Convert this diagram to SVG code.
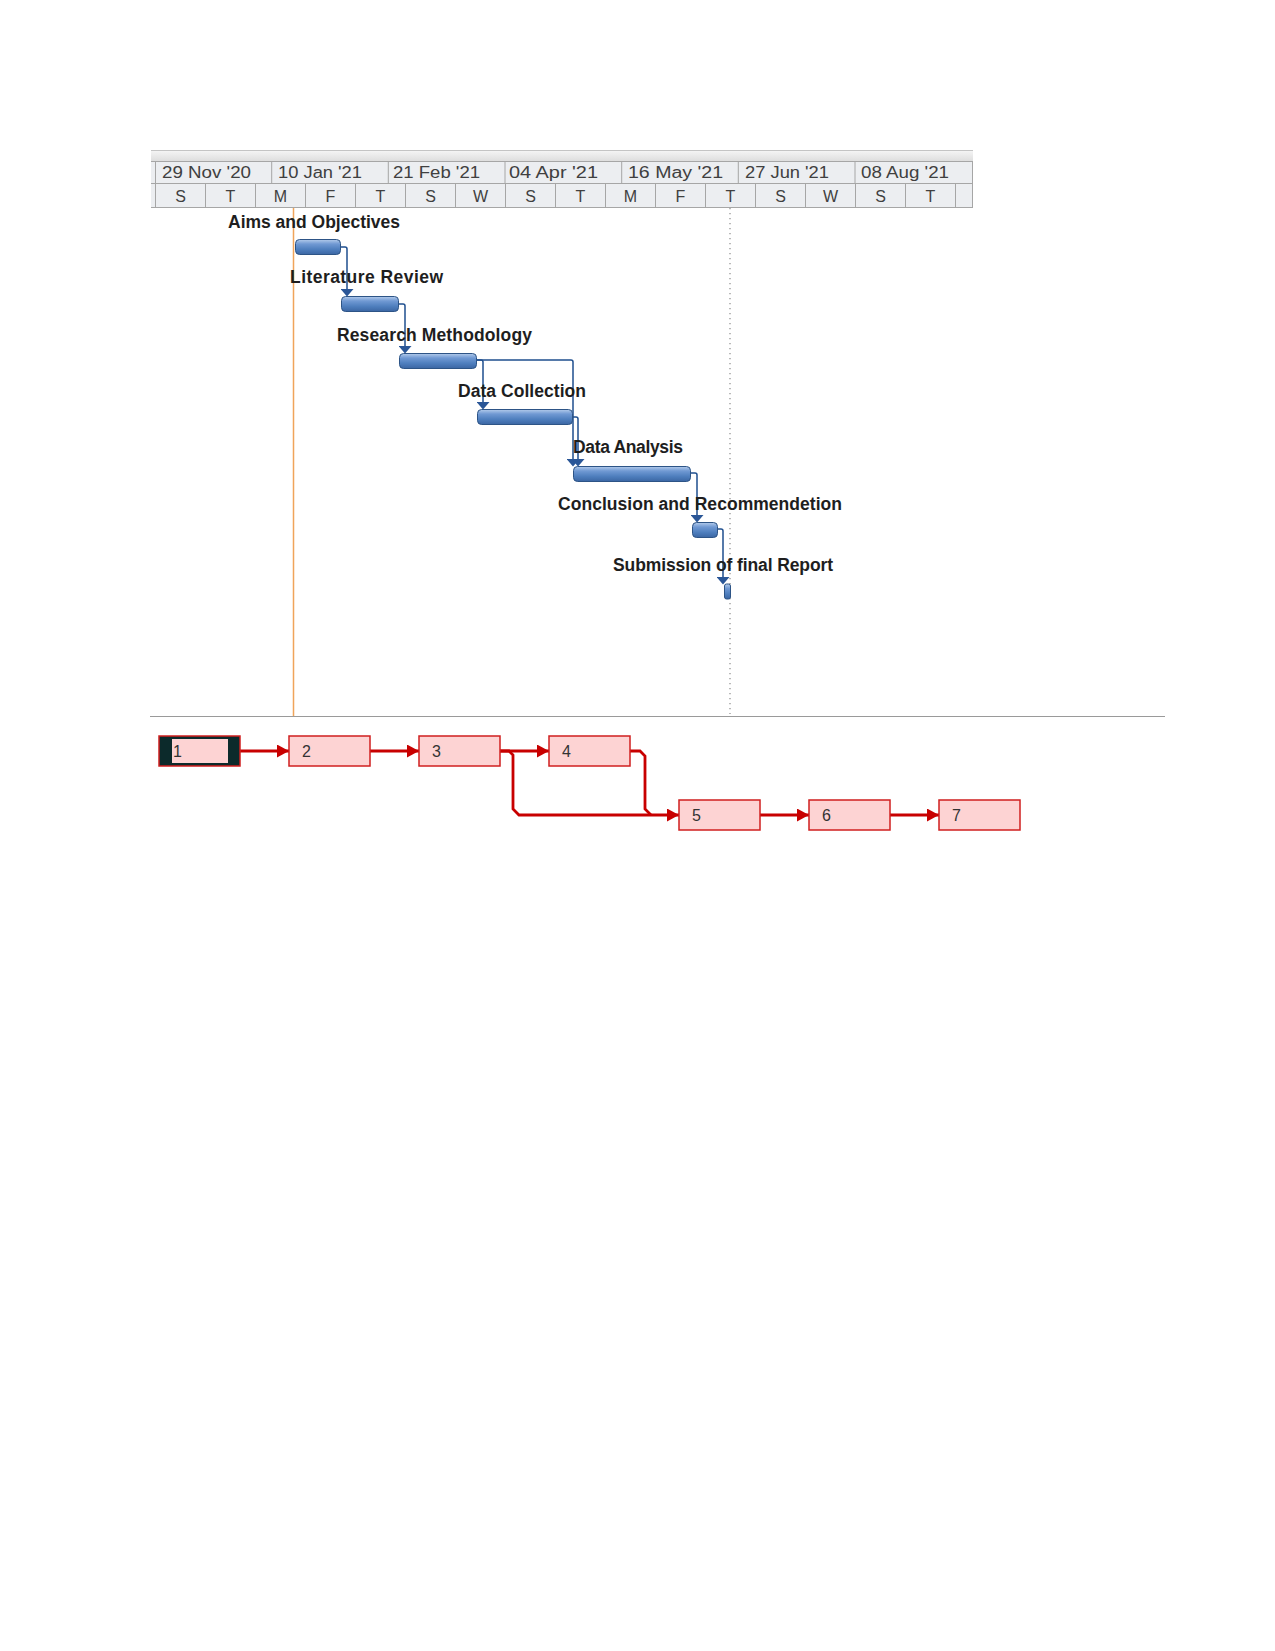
<svg xmlns="http://www.w3.org/2000/svg" width="1275" height="1651" viewBox="0 0 1275 1651">
  <defs>
    <linearGradient id="barGrad" x1="0" y1="0" x2="0" y2="1">
      <stop offset="0" stop-color="#b3cbeb"/>
      <stop offset="0.3" stop-color="#7099d3"/>
      <stop offset="0.65" stop-color="#4f7fbe"/>
      <stop offset="1" stop-color="#3b66a3"/>
    </linearGradient>
    <linearGradient id="bandGrad" x1="0" y1="0" x2="0" y2="1">
      <stop offset="0" stop-color="#f6f6f6"/>
      <stop offset="1" stop-color="#dedede"/>
    </linearGradient>
    <marker id="redArrow" viewBox="0 0 12 13" refX="12" refY="6.5" markerWidth="12" markerHeight="13" markerUnits="userSpaceOnUse" orient="auto">
      <path d="M0,0 L12,6.5 L0,13 Z" fill="#c80000"/>
    </marker>
    <marker id="blueArrow" viewBox="0 0 13 8" refX="6.5" refY="0" markerWidth="13" markerHeight="8" markerUnits="userSpaceOnUse" orient="0">
      <path d="M0,0 L13,0 L6.5,7.5 Z" fill="#2a5697"/>
    </marker>
  </defs>
  <style>
    .hdr { font-family: "Liberation Sans", Arial, sans-serif; font-size: 16px; fill: #404040; }
    .day { font-family: "Liberation Sans", Arial, sans-serif; font-size: 16px; fill: #404040; text-anchor: middle; }
    .grid { stroke: #a6a6a6; stroke-width: 1; fill: none; }
    .bar { fill: url(#barGrad); stroke: #2d5486; stroke-width: 1; }
    .lbl { font-family: "Liberation Sans", Arial, sans-serif; font-size: 17.5px; font-weight: bold; fill: #1e1e1e; }
    .gconn { fill: none; stroke: #1f4f8f; stroke-width: 1.5; }
    .box { fill: #fdd3d3; stroke: #d01f1f; stroke-width: 1.5; }
    .num { font-family: "Liberation Sans", Arial, sans-serif; font-size: 16px; fill: #333333; }
    .rconn { fill: none; stroke: #c80000; stroke-width: 2.8; stroke-linejoin: miter; }
  </style>
  <rect x="0" y="0" width="1275" height="1651" fill="#ffffff"/>

  <!-- Timescale header -->
  <g id="header">
    <rect x="151" y="150" width="822" height="11" fill="url(#bandGrad)"/>
    <line x1="151" y1="150.5" x2="973" y2="150.5" stroke="#c4c4c4" stroke-width="1"/>
    <rect x="151" y="161.5" width="822" height="46" fill="#eceef1"/>
    <line class="grid" x1="151" y1="161.5" x2="973" y2="161.5"/>
    <line class="grid" x1="151" y1="183.5" x2="973" y2="183.5"/>
    <line class="grid" x1="151" y1="207.5" x2="973" y2="207.5"/>
    <line class="grid" x1="155.5" y1="161.5" x2="155.5" y2="207.5"/>
    <line class="grid" x1="972.5" y1="161.5" x2="972.5" y2="207.5"/>
    <g class="grid">
      <line x1="271.7" y1="161.5" x2="271.7" y2="183.5"/>
      <line x1="388.3" y1="161.5" x2="388.3" y2="183.5"/>
      <line x1="505" y1="161.5" x2="505" y2="183.5"/>
      <line x1="621.7" y1="161.5" x2="621.7" y2="183.5"/>
      <line x1="738.3" y1="161.5" x2="738.3" y2="183.5"/>
      <line x1="855" y1="161.5" x2="855" y2="183.5"/>
      <line x1="205.5" y1="183.5" x2="205.5" y2="207.5"/>
      <line x1="255.5" y1="183.5" x2="255.5" y2="207.5"/>
      <line x1="305.5" y1="183.5" x2="305.5" y2="207.5"/>
      <line x1="355.5" y1="183.5" x2="355.5" y2="207.5"/>
      <line x1="405.5" y1="183.5" x2="405.5" y2="207.5"/>
      <line x1="455.5" y1="183.5" x2="455.5" y2="207.5"/>
      <line x1="505.5" y1="183.5" x2="505.5" y2="207.5"/>
      <line x1="555.5" y1="183.5" x2="555.5" y2="207.5"/>
      <line x1="605.5" y1="183.5" x2="605.5" y2="207.5"/>
      <line x1="655.5" y1="183.5" x2="655.5" y2="207.5"/>
      <line x1="705.5" y1="183.5" x2="705.5" y2="207.5"/>
      <line x1="755.5" y1="183.5" x2="755.5" y2="207.5"/>
      <line x1="805.5" y1="183.5" x2="805.5" y2="207.5"/>
      <line x1="855.5" y1="183.5" x2="855.5" y2="207.5"/>
      <line x1="905.5" y1="183.5" x2="905.5" y2="207.5"/>
      <line x1="955.5" y1="183.5" x2="955.5" y2="207.5"/>
    </g>
    <text class="hdr" x="162" y="178" textLength="89" lengthAdjust="spacingAndGlyphs">29 Nov '20</text>
    <text class="hdr" x="278" y="178" textLength="84" lengthAdjust="spacingAndGlyphs">10 Jan '21</text>
    <text class="hdr" x="393" y="178" textLength="87" lengthAdjust="spacingAndGlyphs">21 Feb '21</text>
    <text class="hdr" x="509" y="178" textLength="89" lengthAdjust="spacingAndGlyphs">04 Apr '21</text>
    <text class="hdr" x="628" y="178" textLength="95" lengthAdjust="spacingAndGlyphs">16 May '21</text>
    <text class="hdr" x="745" y="178" textLength="84" lengthAdjust="spacingAndGlyphs">27 Jun '21</text>
    <text class="hdr" x="861" y="178" textLength="88" lengthAdjust="spacingAndGlyphs">08 Aug '21</text>
    <text class="day" x="180.5" y="202">S</text>
    <text class="day" x="230.5" y="202">T</text>
    <text class="day" x="280.5" y="202">M</text>
    <text class="day" x="330.5" y="202">F</text>
    <text class="day" x="380.5" y="202">T</text>
    <text class="day" x="430.5" y="202">S</text>
    <text class="day" x="480.5" y="202">W</text>
    <text class="day" x="530.5" y="202">S</text>
    <text class="day" x="580.5" y="202">T</text>
    <text class="day" x="630.5" y="202">M</text>
    <text class="day" x="680.5" y="202">F</text>
    <text class="day" x="730.5" y="202">T</text>
    <text class="day" x="780.5" y="202">S</text>
    <text class="day" x="830.5" y="202">W</text>
    <text class="day" x="880.5" y="202">S</text>
    <text class="day" x="930.5" y="202">T</text>
  </g>

  <!-- Gantt chart guide lines -->
  <g id="guides">
    <line x1="293.5" y1="208" x2="293.5" y2="716" stroke="#f0a45a" stroke-width="1.5"/>
    <line x1="730" y1="208" x2="730" y2="714" stroke="#8a8a8a" stroke-width="1.2" stroke-dasharray="1.2 3.8"/>
    <line x1="150" y1="716.5" x2="1165" y2="716.5" stroke="#9a9a9a" stroke-width="1"/>
  </g>

  <!-- Gantt connectors -->
  <g id="gantt-connectors">
    <path class="gconn" d="M340,247 H345 Q347,247 347,249 V289" marker-end="url(#blueArrow)"/>
    <path class="gconn" d="M398,304 H403 Q405,304 405,306 V346" marker-end="url(#blueArrow)"/>
    <path class="gconn" d="M477,360 H481 Q483,360 483,362 V402" marker-end="url(#blueArrow)"/>
    <path class="gconn" d="M477,360 H571 Q573,360 573,362 V459" marker-end="url(#blueArrow)"/>
    <path class="gconn" d="M573,417 H576 Q578,417 578,419 V459" marker-end="url(#blueArrow)"/>
    <path class="gconn" d="M690,473 H695 Q697,473 697,475 V515" marker-end="url(#blueArrow)"/>
    <path class="gconn" d="M717,529 H721 Q723,529 723,531 V577" marker-end="url(#blueArrow)"/>
  </g>

  <!-- Gantt tasks -->
  <g id="task1">
    <rect class="bar" x="295.5" y="239.5" width="45" height="15" rx="4"/>
    <text class="lbl" x="228" y="228" textLength="172">Aims and Objectives</text>
  </g>
  <g id="task2">
    <rect class="bar" x="341.5" y="296.5" width="57" height="15" rx="4"/>
    <text class="lbl" x="290" y="283" textLength="153">Literature Review</text>
  </g>
  <g id="task3">
    <rect class="bar" x="399.5" y="353.5" width="77" height="15" rx="4"/>
    <text class="lbl" x="337" y="341" textLength="195">Research Methodology</text>
  </g>
  <g id="task4">
    <rect class="bar" x="477.5" y="409.5" width="95" height="15" rx="4"/>
    <text class="lbl" x="458" y="397" textLength="128">Data Collection</text>
  </g>
  <g id="task5">
    <rect class="bar" x="573.5" y="466.5" width="117" height="15" rx="4"/>
    <text class="lbl" x="573" y="453" textLength="110">Data Analysis</text>
  </g>
  <g id="task6">
    <rect class="bar" x="692.5" y="522.5" width="25" height="15" rx="4"/>
    <text class="lbl" x="558" y="510" textLength="284">Conclusion and Recommendetion</text>
  </g>
  <g id="task7">
    <rect class="bar" x="724.5" y="584" width="6" height="15" rx="2"/>
    <text class="lbl" x="613" y="571" textLength="220">Submission of final Report</text>
  </g>

  <!-- Network diagram connectors -->
  <g id="network-connectors">
    <path class="rconn" d="M240,751 H289" marker-end="url(#redArrow)"/>
    <path class="rconn" d="M370,751 H419" marker-end="url(#redArrow)"/>
    <path class="rconn" d="M500,751 H549" marker-end="url(#redArrow)"/>
    <path class="rconn" d="M500,751 H509 L513,755 V809 L519,815 H679" marker-end="url(#redArrow)"/>
    <path class="rconn" d="M630,751 H640 L645,756 V809 L651,815"/>
    <path class="rconn" d="M759,815 H809" marker-end="url(#redArrow)"/>
    <path class="rconn" d="M889,815 H939" marker-end="url(#redArrow)"/>
  </g>

  <!-- Network diagram nodes -->
  <g id="node1">
    <rect x="159" y="736" width="81" height="30" fill="#0c2a2b" stroke="#d01f1f" stroke-width="1.5"/>
    <rect x="172" y="739" width="56" height="24" fill="#fdd3d3"/>
    <text class="num" x="173" y="757">1</text>
  </g>
  <g id="node2">
    <rect class="box" x="289" y="736" width="81" height="30"/>
    <text class="num" x="302" y="757">2</text>
  </g>
  <g id="node3">
    <rect class="box" x="419" y="736" width="81" height="30"/>
    <text class="num" x="432" y="757">3</text>
  </g>
  <g id="node4">
    <rect class="box" x="549" y="736" width="81" height="30"/>
    <text class="num" x="562" y="757">4</text>
  </g>
  <g id="node5">
    <rect class="box" x="679" y="800" width="81" height="30"/>
    <text class="num" x="692" y="821">5</text>
  </g>
  <g id="node6">
    <rect class="box" x="809" y="800" width="81" height="30"/>
    <text class="num" x="822" y="821">6</text>
  </g>
  <g id="node7">
    <rect class="box" x="939" y="800" width="81" height="30"/>
    <text class="num" x="952" y="821">7</text>
  </g>
</svg>
